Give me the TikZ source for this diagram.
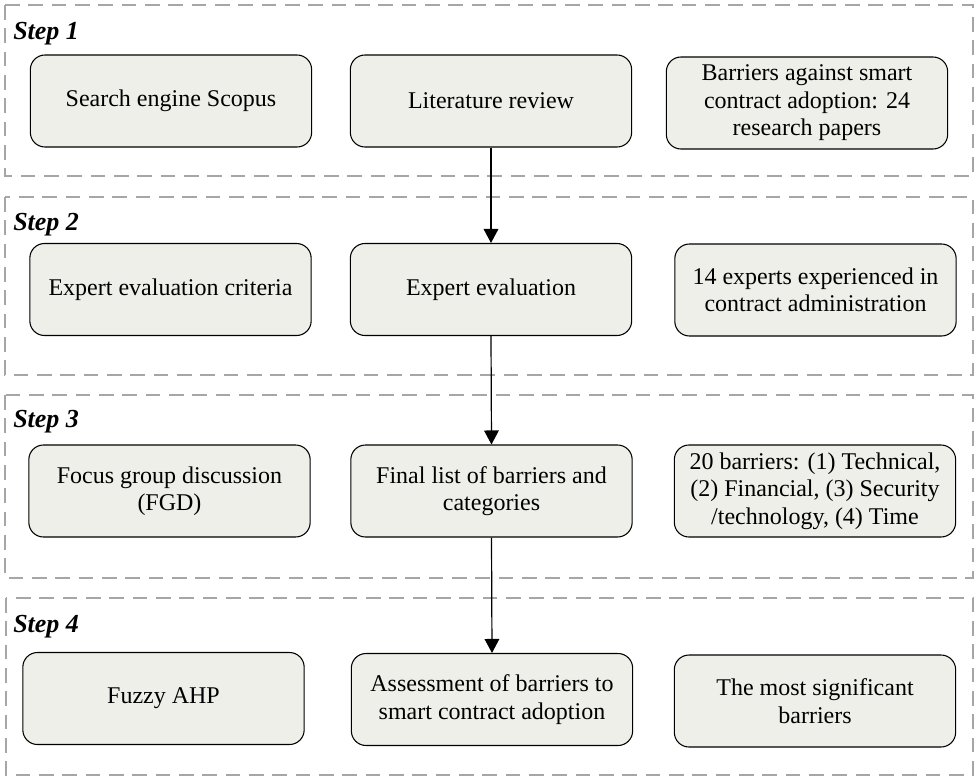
\documentclass[tikz,border=0pt]{standalone}
\usepackage{fontspec}
\setmainfont{Liberation Serif}
\usetikzlibrary{arrows.meta, positioning}
\definecolor{caixa}{RGB}{239,239,233}
\tikzset{
  bx/.style = {draw=black, fill=caixa, rounded corners=11pt, align=center,
    minimum width=211pt, minimum height=69pt, inner sep=2pt, line width=0.8pt,
    font=\fontsize{18}{20.6}\selectfont},
  fr/.style = {draw=black!35, line width=1.5pt, dash pattern=on 11pt off 6.5pt},
  stp/.style = {anchor=base west, inner sep=0pt,
    font=\fontsize{19.5}{22}\selectfont\bfseries\itshape},
  seta/.style = {-{Triangle[length=10.5pt, width=11pt]}, line width=0.9pt}
}

\begin{document}
\begin{tikzpicture}[x=0.75pt, y=-0.75pt]
  \useasboundingbox (0,0) rectangle (975,776);
  \draw [fr] (5,5) rectangle (973,176);
  \draw [fr] (5,197) rectangle (973,375);
  \draw [fr] (5,395) rectangle (973,578);
  \draw [fr] (6,598) rectangle (973,775);
  \node [stp] (l1) at (13,39) {Step 1};
  \node [stp] (l2) at (13,230) {Step 2};
  \node [stp] (l3) at (13,427) {Step 3};
  \node [stp] (l4) at (13,632) {Step 4};
  \node [bx] (sc) at (171,101) {Search engine Scopus};
  \node [bx] (lr) at (491,101) {Literature review};
  \node [bx] (ba) at (807,103) {Barriers against smart\\contract adoption: 24\\research papers};
  \node [bx] (cr) at (170.5,289.5) {Expert evaluation criteria};
  \node [bx] (ev) at (491,289.5) {Expert evaluation};
  \node [bx] (ex) at (815.5,290) {14 experts experienced in\\contract administration};
  \node [bx] (fg) at (169.5,491) {Focus group discussion\\(FGD)};
  \node [bx] (fl) at (491.5,491) {Final list of barriers and\\categories};
  \node [bx] (b20) at (815,491) {20 barriers: (1) Technical,\\(2) Financial, (3) Security\\/technology, (4) Time};
  \node [bx] (fz) at (163.5,698.5) {Fuzzy AHP};
  \node [bx] (as) at (492,699.5) {Assessment of barriers to\\smart contract adoption};
  \node [bx] (ms) at (815,701) {The most significant\\barriers};
  \draw [seta] (lr.south) -- (ev.north);
  \draw [seta] (ev.south) -- (fl.north);
  \draw [seta] (fl.south) -- (as.north);
\end{tikzpicture}
\end{document}
